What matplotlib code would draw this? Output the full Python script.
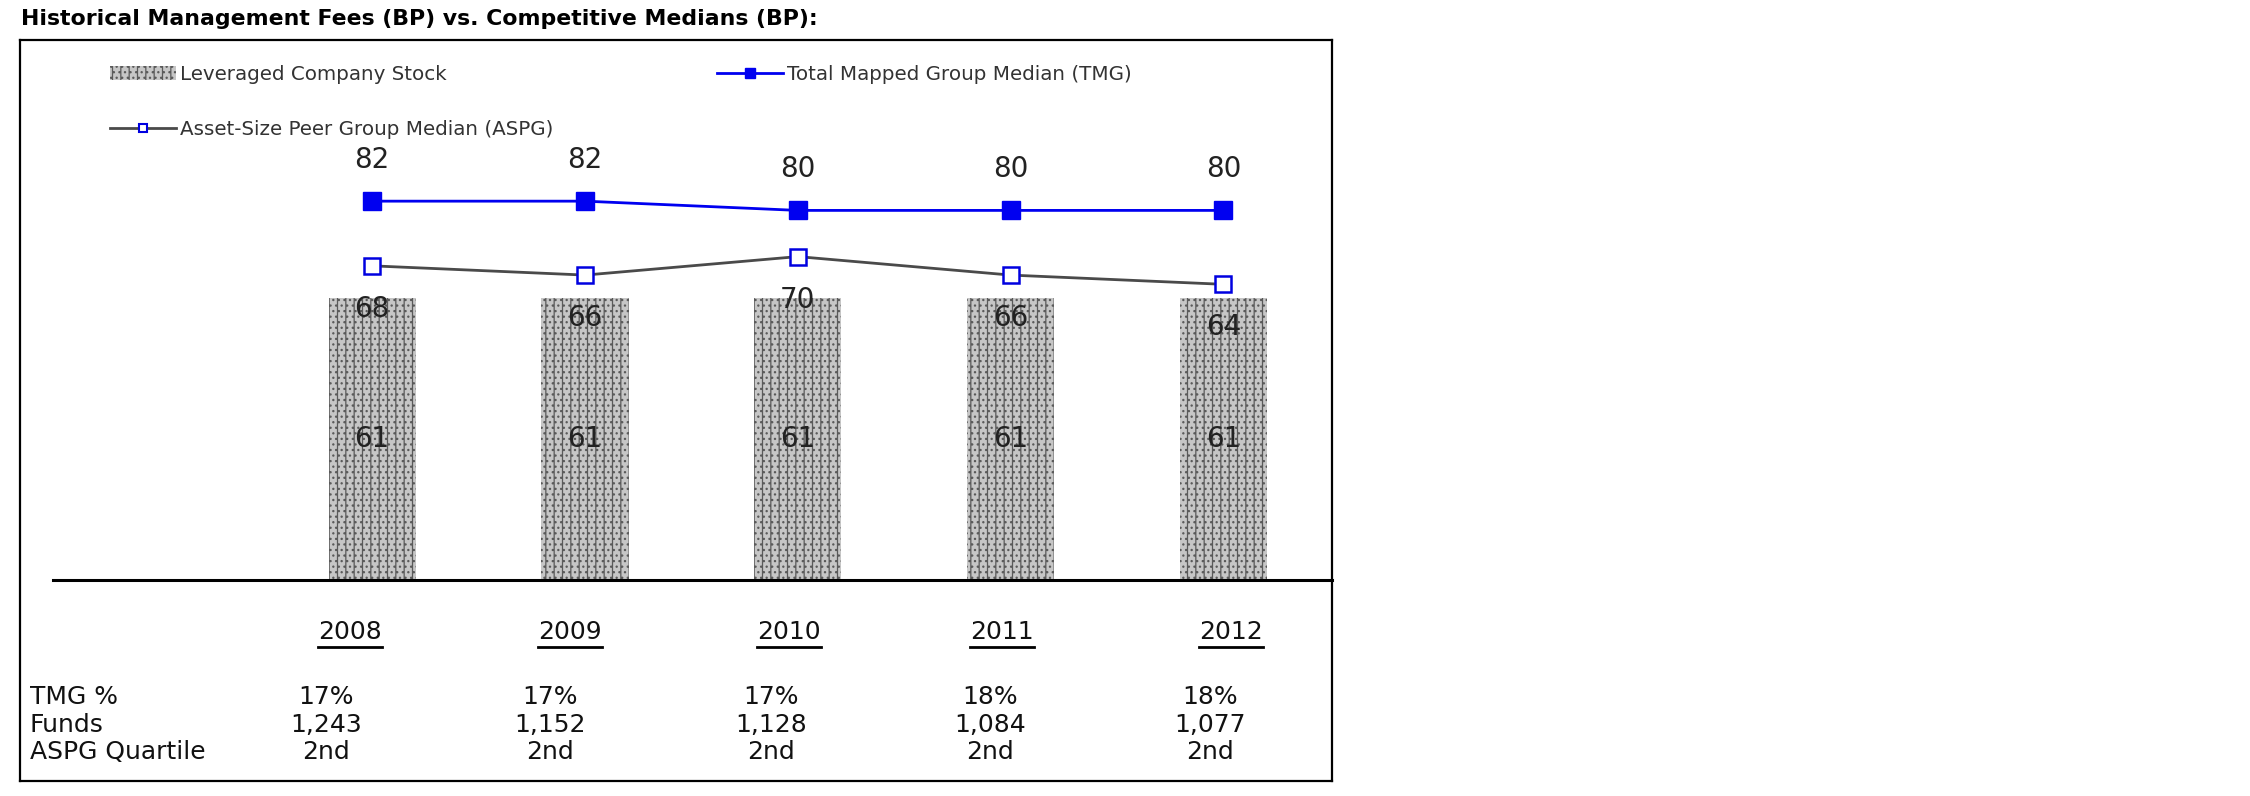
import numpy as np
import matplotlib

matplotlib.use("Agg")
import matplotlib.pyplot as plt
from matplotlib.lines import Line2D
from matplotlib.patches import Patch

# data
years = ["2008", "2009", "2010", "2011", "2012"]
lev_stock = [61, 61, 61, 61, 61]
tmg_median = [82, 82, 80, 80, 80]
aspg_median = [68, 66, 70, 66, 64]
tmg_pct = ["17%", "17%", "17%", "18%", "18%"]
funds = ["1,243", "1,152", "1,128", "1,084", "1,077"]
aspg_quartile = ["2nd", "2nd", "2nd", "2nd", "2nd"]
row_labels = ["TMG %", "Funds", "ASPG Quartile"]

W, H = 2250, 796


def fx(px):
    return px / W


def fy(py):
    return 1 - py / H


plt.rcParams["font.family"] = ["DejaVu Sans"]
plt.rcParams["hatch.linewidth"] = 0.9

fig = plt.figure(figsize=(W / 100, H / 100), dpi=100)
fig.patch.set_facecolor("white")

# plot area: baseline at y=580px, bars from x=53 to the right frame
ax = fig.add_axes([fx(53), fy(580), fx(1332) - fx(53), fy(40) - fy(580)])
x = np.arange(len(years))
ax.set_xlim(-1.5, 4.51)
ax.set_ylim(0, (580 - 40) / 4.62)

bar_kw = dict(facecolor="#c6c6c6", edgecolor="#5a5a5a", hatch="||...", linewidth=0)
bars = ax.bar(x, lev_stock, width=0.41, **bar_kw)
ax.bar_label(bars, label_type="center", fontsize=20, color="#222222")

ax.plot(x, tmg_median, color="#0000f0", lw=2, marker="s", ms=13.5,
        markerfacecolor="#0000f0", markeredgecolor="#0000f0", zorder=4)
ax.plot(x, aspg_median, color="#4a4a4a", lw=2, marker="s", ms=11.5,
        markerfacecolor="white", markeredgecolor="#0000e0", mew=1.8, zorder=4)

for xi, v in zip(x, tmg_median):
    ax.annotate(str(v), (xi, v), xytext=(0, 41), textcoords="offset pixels",
                ha="center", va="center", fontsize=20, color="#222222")
for xi, v in zip(x, aspg_median):
    ax.annotate(str(v), (xi, v), xytext=(0, -43), textcoords="offset pixels",
                ha="center", va="center", fontsize=20, color="#222222", zorder=5)

for s in ["top", "left", "right"]:
    ax.spines[s].set_visible(False)
ax.spines["bottom"].set_linewidth(2.2)
ax.spines["bottom"].set_color("black")
ax.set_xticks([])
ax.set_yticks([])
ax.patch.set_alpha(0)

# legends
h_lev = Patch(**bar_kw)
h_aspg = Line2D([], [], color="#4a4a4a", lw=2, marker="s", ms=6,
                markerfacecolor="white", markeredgecolor="#0000e0", mew=1.5)
h_tmg = Line2D([], [], color="#0000f0", lw=2, marker="s", ms=7,
               markerfacecolor="#0000f0", markeredgecolor="#0000f0")
leg_kw = dict(loc="upper left", frameon=False, fontsize=14.3, borderpad=0,
              borderaxespad=0, handlelength=3.3, handletextpad=0.2,
              labelspacing=1.8, labelcolor="#333333")
fig.legend([h_lev, h_aspg], ["Leveraged Company Stock", "Asset-Size Peer Group Median (ASPG)"],
           bbox_to_anchor=(fx(110), fy(65)), **leg_kw)
fig.legend([h_tmg], ["Total Mapped Group Median (TMG)"],
           bbox_to_anchor=(fx(717), fy(65)), **leg_kw)

# title
fig.text(fx(21), fy(19), "Historical Management Fees (BP) vs. Competitive Medians (BP):",
         fontsize=15.8, fontweight="bold", ha="left", va="center")

# frame
frame = [((20, 40), (1332, 40)), ((20, 40), (20, 781)), ((1332, 40), (1332, 781)),
         ((20, 781), (1332, 781))]
for (x0, y0), (x1, y1) in frame:
    fig.add_artist(Line2D([fx(x0), fx(x1)], [fy(y0), fy(y1)], color="black", lw=1.6))

# table under the chart
year_x = [350, 570, 789, 1002, 1231]
value_x = [326, 550, 771, 990, 1210]
year_y = 632
row_y = [697, 725, 752]
tfont = dict(fontsize=18, color="#111111", va="center")

year_texts = []
for xp, yr in zip(year_x, years):
    year_texts.append(fig.text(fx(xp), fy(year_y), yr, ha="center", **tfont))
for yp, lab in zip(row_y, row_labels):
    fig.text(fx(30), fy(yp), lab, ha="left", **tfont)
for yp, row in zip(row_y, [tmg_pct, funds, aspg_quartile]):
    for xp, val in zip(value_x, row):
        fig.text(fx(xp), fy(yp), val, ha="center", **tfont)

# underline the years
fig.canvas.draw()
renderer = fig.canvas.get_renderer()
for t in year_texts:
    bb = t.get_window_extent(renderer)
    fig.add_artist(Line2D([bb.x0 / W, bb.x1 / W], [(bb.y0 - 3) / H] * 2,
                          color="black", lw=2))

fig.savefig("out.png", dpi=100)
